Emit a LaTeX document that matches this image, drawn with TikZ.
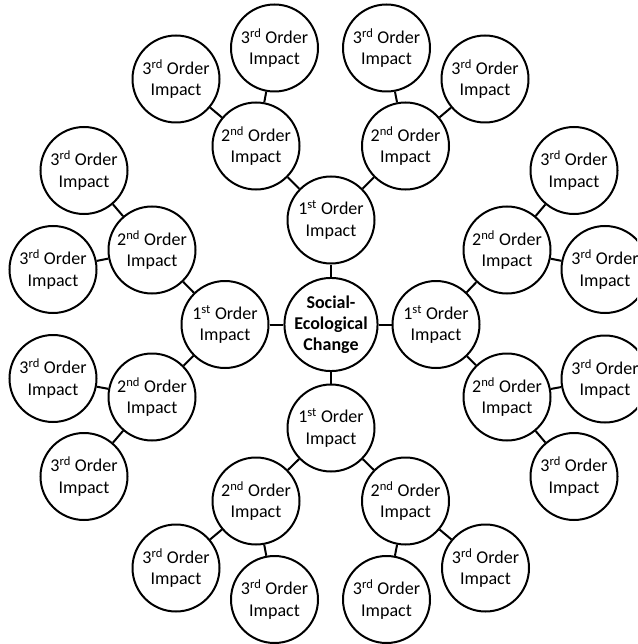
\documentclass[tikz,border=0pt]{standalone}
\usepackage{fontspec}
\setmainfont{Carlito}
\begin{document}
\begin{tikzpicture}[x=1pt,y=-1pt,
  imp/.style={circle,draw=black,line width=2pt,fill=white,minimum size=87pt,inner sep=0pt,align=center,font=\fontsize{18}{21.5}\selectfont},
  link/.style={line width=2pt}]
\clip (0,0) rectangle (637,644);
\fill[white] (0,0) rectangle (637,644);
\newcommand{\thd}{3\textsuperscript{rd} Order\\Impact}
\newcommand{\snd}{2\textsuperscript{nd} Order\\Impact}
\newcommand{\fst}{1\textsuperscript{st} Order\\Impact}
% center
\node[imp,font=\bfseries\fontsize{18}{21}\selectfont] (c) at (331,324.5) {Social-\\Ecological\\Change};
% first order
\node[imp] (ft) at (331,220) {\fst};
\node[imp] (fl) at (225,324.5) {\fst};
\node[imp] (fr) at (436,324.5) {\fst};
\node[imp] (fb) at (331,428) {\fst};
% second order
\node[imp] (stl) at (256,146) {\snd};
\node[imp] (str) at (405.5,146) {\snd};
\node[imp] (slu) at (152,250) {\snd};
\node[imp] (sll) at (152,397) {\snd};
\node[imp] (sru) at (507,250) {\snd};
\node[imp] (srl) at (507,397) {\snd};
\node[imp] (sbl) at (256,501) {\snd};
\node[imp] (sbr) at (405.5,501) {\snd};
% third order
\node[imp] (t1) at (176,79) {\thd};
\node[imp] (t2) at (274.5,48) {\thd};
\node[imp] (t3) at (386.5,48) {\thd};
\node[imp] (t4) at (485,79) {\thd};
\node[imp] (t5) at (84,170.5) {\thd};
\node[imp] (t6) at (53,269.5) {\thd};
\node[imp] (t7) at (53,378.5) {\thd};
\node[imp] (t8) at (84,476.5) {\thd};
\node[imp] (t9) at (574,170.5) {\thd};
\node[imp] (t10) at (605,269.5) {\thd};
\node[imp] (t11) at (605,379) {\thd};
\node[imp] (t12) at (574,476.5) {\thd};
\node[imp] (t13) at (176,568) {\thd};
\node[imp] (t14) at (274.5,599.5) {\thd};
\node[imp] (t15) at (386.5,599.5) {\thd};
\node[imp] (t16) at (485.5,568) {\thd};
% connectors
\draw[link] (c) -- (ft);
\draw[link] (c) -- (fl);
\draw[link] (c) -- (fr);
\draw[link] (c) -- (fb);
\draw[link] (ft) -- (stl);
\draw[link] (ft) -- (str);
\draw[link] (fl) -- (slu);
\draw[link] (fl) -- (sll);
\draw[link] (fr) -- (sru);
\draw[link] (fr) -- (srl);
\draw[link] (fb) -- (sbl);
\draw[link] (fb) -- (sbr);
\draw[link] (stl) -- (t1);
\draw[link] (stl) -- (t2);
\draw[link] (str) -- (t3);
\draw[link] (str) -- (t4);
\draw[link] (slu) -- (t5);
\draw[link] (slu) -- (t6);
\draw[link] (sll) -- (t7);
\draw[link] (sll) -- (t8);
\draw[link] (sru) -- (t9);
\draw[link] (sru) -- (t10);
\draw[link] (srl) -- (t11);
\draw[link] (srl) -- (t12);
\draw[link] (sbl) -- (t13);
\draw[link] (sbl) -- (t14);
\draw[link] (sbr) -- (t15);
\draw[link] (sbr) -- (t16);
\end{tikzpicture}
\end{document}
